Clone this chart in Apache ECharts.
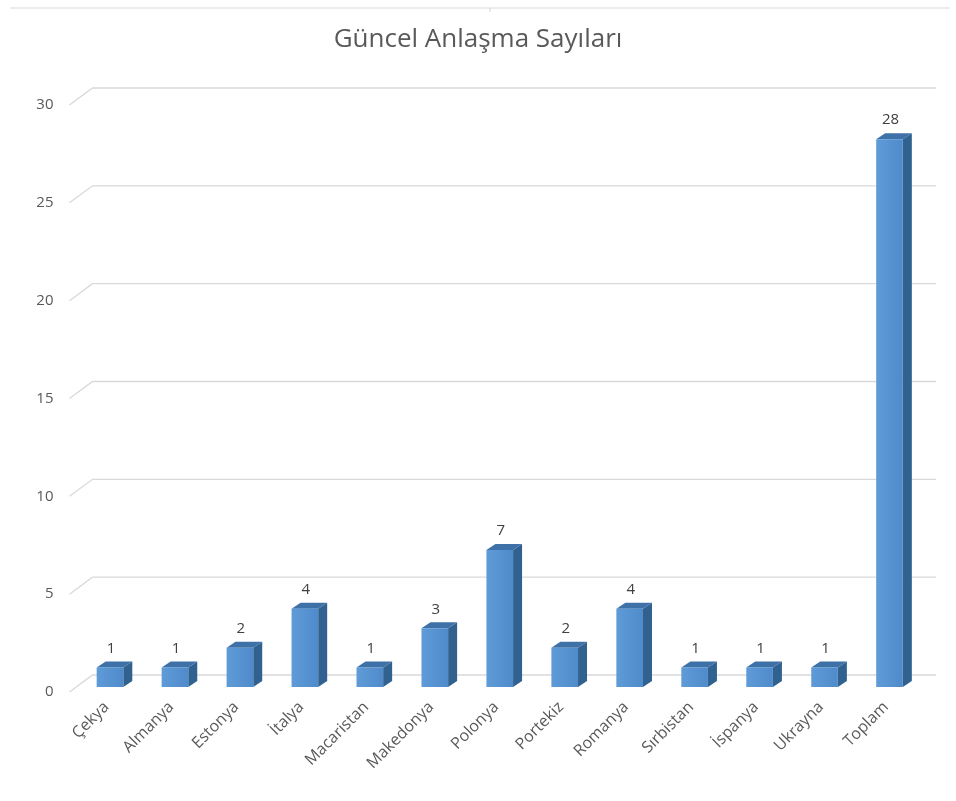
<!DOCTYPE html>
<html><head><meta charset="utf-8">
<script src="https://cdn.jsdelivr.net/npm/echarts@6/dist/echarts.min.js"></script>
<style>html,body{margin:0;padding:0;background:#fff}#c{width:956px;height:801px}</style>
</head><body><div id="c"></div>
<script>
const categories = ['Çekya','Almanya','Estonya','İtalya','Macaristan','Makedonya','Polonya','Portekiz','Romanya','Sırbistan','İspanya','Ukrayna','Toplam'];
const values = [1,1,2,4,1,3,7,2,4,1,1,1,28];
const yTicks = [0,5,10,15,20,25,30];
const titleText = 'Güncel Anlaşma Sayıları';

const FONT = 'Open Sans';
const chart = echarts.init(document.getElementById('c'), null, {renderer:'canvas'});
const DX = 9, DY = -6;

function renderGrid(params, api){
  const v = api.value(1);
  const p = api.coord([0, v]);
  const cs = params.coordSys;
  const y = p[1];
  return {type:'polyline', shape:{points:[[cs.x-8, y+5],[cs.x+15, y-12],[cs.x+cs.width+14, y-12]]},
    style:{stroke:'#d9d9d9', lineWidth:1.3, fill:null}};
}

function renderBar(params, api){
  const i = api.value(0), v = api.value(1);
  const top = api.coord([i, v]);
  const bot = api.coord([i, 0]);
  const band = api.size([1,0])[0];
  const w = band*0.41;
  const x0 = top[0]-w/2, x1 = top[0]+w/2;
  const yt = top[1], yb = bot[1];
  return {type:'group', children:[
    {type:'polygon', shape:{points:[[x1,yt],[x1+DX,yt+DY],[x1+DX,yb+DY],[x1,yb]]}, style:{fill:'#30618f'}},
    {type:'polygon', shape:{points:[[x0,yt],[x0+DX,yt+DY],[x1+DX,yt+DY],[x1,yt]]}, style:{fill:'#3d71a8'}},
    {type:'rect', shape:{x:x0,y:yt,width:w,height:yb-yt},
      style:{fill:new echarts.graphic.LinearGradient(0,0,1,0,[{offset:0,color:'#5f9bd7'},{offset:1,color:'#4f8bcb'}])}},
    {type:'text', x: top[0]+1, y: yt-19,
      style:{text:String(v), fill:'#404040', font:'15px "'+FONT+'"', align:'center', verticalAlign:'middle'}}
  ]};
}

chart.setOption({
  animation:false,
  backgroundColor:'#fff',
  title:{text:titleText, left:'center', top:22,
    textStyle:{fontFamily:FONT, fontSize:26, fontWeight:'normal', color:'#595959'}},
  grid:{left:77.5, right:34, top:100, bottom:114, containLabel:false},
  xAxis:{type:'category', data:categories,
    axisLine:{show:false}, axisTick:{show:false}, splitLine:{show:false},
    axisLabel:{interval:0, rotate:45, margin:14, padding:[0,5,0,0], fontFamily:FONT, fontSize:16, color:'#595959'}},
  yAxis:{type:'value', min:0, max:30, interval:5,
    axisLine:{show:false}, axisTick:{show:false}, splitLine:{show:false},
    axisLabel:{margin:24, fontFamily:FONT, fontSize:15, color:'#595959', verticalAlign:'top', lineHeight:10}},
  graphic:[
    {type:'line', shape:{x1:10,y1:8,x2:950,y2:8}, style:{stroke:'#d9d9d9', lineWidth:1.2}},
    {type:'line', shape:{x1:490,y1:8,x2:490,y2:12}, style:{stroke:'#d9d9d9', lineWidth:1.2}}
  ],
  series:[
    {type:'custom', renderItem:renderGrid, z:1, silent:true,
      data:yTicks.map(t=>[0,t])},
    {type:'custom', renderItem:renderBar, z:2,
      data:values.map((v,i)=>[i,v])}
  ]
});
</script></body></html>
